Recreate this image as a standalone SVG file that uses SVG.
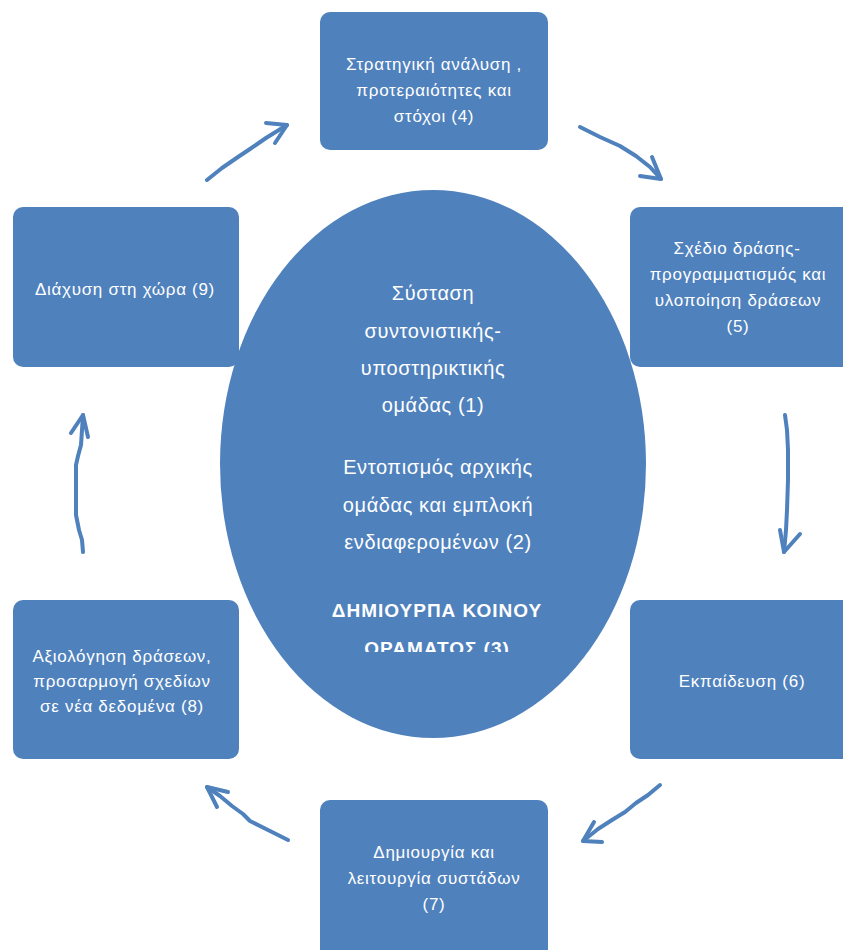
<svg xmlns="http://www.w3.org/2000/svg" width="843" height="950" viewBox="0 0 843 950">
<style>
.shape{fill:#4F81BD;}
.t{fill:#FFFFFF;font-family:"Liberation Sans","Open Sans",sans-serif;font-size:17px;letter-spacing:0.7px;text-anchor:middle;}
.tc{fill:#FFFFFF;font-family:"Liberation Sans","Open Sans",sans-serif;font-size:20px;letter-spacing:0.6px;text-anchor:middle;}
.tb{fill:#FFFFFF;font-family:"Liberation Sans","Open Sans",sans-serif;font-size:19px;letter-spacing:1px;font-weight:bold;text-anchor:middle;}
.arr{fill:none;stroke:#4F81BD;stroke-width:4;stroke-linecap:round;stroke-linejoin:round;}
</style>
<defs>
<clipPath id="ec"><rect x="0" y="0" width="843" height="652"/></clipPath>
</defs>
<rect width="843" height="950" fill="#FFFFFF"/>
<g id="center">
<ellipse class="shape" cx="433" cy="464" rx="213" ry="274"/>
<g clip-path="url(#ec)">
<text class="tc" x="433" y="300">Σύσταση</text>
<text class="tc" x="433" y="338">συντονιστικής-</text>
<text class="tc" x="433" y="375">υποστηρικτικής</text>
<text class="tc" x="433" y="412">ομάδας (1)</text>
<text class="tc" x="438" y="474">Εντοπισμός αρχικής</text>
<text class="tc" x="438" y="512">ομάδας και εμπλοκή</text>
<text class="tc" x="438" y="549">ενδιαφερομένων (2)</text>
<text class="tb" x="437" y="617">ΔΗΜΙΟΥΡΠΑ ΚΟΙΝΟΥ</text>
<text class="tb" x="437" y="655">ΟΡΑΜΑΤΟΣ (3)</text>
</g>
</g>
<g id="n4">
<rect class="shape" x="320" y="12" width="228" height="138" rx="10"/>
<text class="t" x="434" y="70">Στρατηγική ανάλυση ,</text>
<text class="t" x="434" y="96">προτεραιότητες και</text>
<text class="t" x="434" y="122">στόχοι (4)</text>
</g>
<g id="n5">
<rect class="shape" x="630" y="207" width="223" height="160" rx="10"/>
<text class="t" x="737" y="254">Σχέδιο δράσης-</text>
<text class="t" x="738" y="280">προγραμματισμός και</text>
<text class="t" x="738" y="306">υλοποίηση δράσεων</text>
<text class="t" x="738" y="332">(5)</text>
</g>
<g id="n6">
<rect class="shape" x="630" y="600" width="223" height="159" rx="10"/>
<text class="t" x="742" y="687">Εκπαίδευση (6)</text>
</g>
<g id="n7">
<rect class="shape" x="320" y="800" width="228" height="170" rx="10"/>
<text class="t" x="434" y="858">Δημιουργία και</text>
<text class="t" x="434" y="884">λειτουργία συστάδων</text>
<text class="t" x="434" y="910">(7)</text>
</g>
<g id="n8">
<rect class="shape" x="13" y="600" width="226" height="159" rx="10"/>
<text class="t" x="122" y="662">Αξιολόγηση δράσεων,</text>
<text class="t" x="122" y="687">προσαρμογή σχεδίων</text>
<text class="t" x="122" y="712">σε νέα δεδομένα (8)</text>
</g>
<g id="n9">
<rect class="shape" x="13" y="207" width="226" height="160" rx="10"/>
<text class="t" x="125" y="295">Διάχυση στη χώρα (9)</text>
</g>
<g id="connectors">
<polyline class="arr" points="207,180 222,168 238,157 250,149 266,138 287,125"/>
<polyline class="arr" points="266,123 287,125 275,143"/>
<polyline class="arr" points="580,127 600,137 620,146 636,156 650,167 661,179"/>
<polyline class="arr" points="652,157 661,179 640,176"/>
<polyline class="arr" points="785,415 787,430 788,450 788,480 787,510 786,530 784,552"/>
<polyline class="arr" points="780,530 784,552 800,534"/>
<polyline class="arr" points="660,785 648,795 636,803 625,812 612,820 598,829 583,841"/>
<polyline class="arr" points="594,822 583,841 602,842"/>
<polyline class="arr" points="288,840 270,831 250,821 243,814 232,806 220,796 207,787"/>
<polyline class="arr" points="228,792 207,787 217,807"/>
<polyline class="arr" points="83,552 82,540 79,530 76,515 76,490 76,465 78,456 81,445 83,415"/>
<polyline class="arr" points="71,433 83,415 88,437"/>
</g>
</svg>
